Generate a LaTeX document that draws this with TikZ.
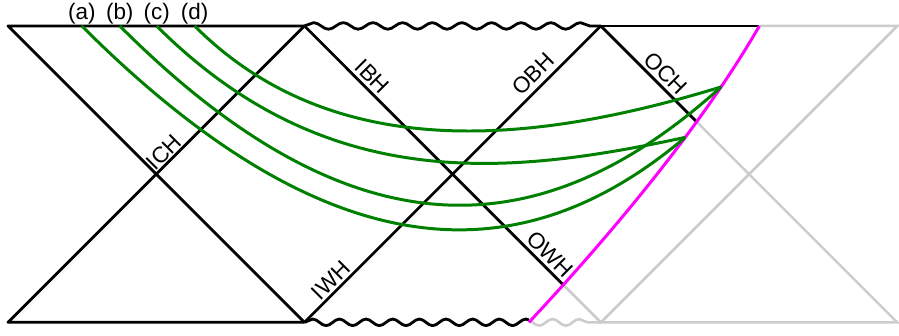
\documentclass[tikz,border=0pt]{standalone}
\usepackage{fontspec}
\setmainfont{Liberation Sans}
\usetikzlibrary{decorations.pathmorphing,intersections}
\definecolor{worldgreen}{RGB}{0,128,0}
\definecolor{ghostgrey}{RGB}{204,204,204}
\definecolor{shell}{RGB}{255,0,255}

\begin{document}
\begin{tikzpicture}[x=148.5pt,y=148.5pt,
  wall/.style={line width=2.8pt,line join=round},
  ghost/.style={line width=2.6pt,draw=ghostgrey},
  sing/.style={decorate,decoration={snake,segment length=#1,amplitude=3.3pt}},
  sing/.default=29.7pt,
  hor/.style={sloped,above,inner sep=4.5pt,font=\fontsize{22.5}{27}\selectfont},
  tag/.style={above,inner sep=2pt,font=\fontsize{22.5}{27}\selectfont},
  world/.style={line width=3pt,draw=worldgreen}]
  \useasboundingbox (-0.054,-0.0875) rectangle (6.012,2.175);

  \foreach \n/\x in {0/0,1/2,2/4,3/6}{
    \coordinate (b\n) at (\x,0);
    \coordinate (t\n) at (\x,2);
  }
  \coordinate (m0) at (3.515,0);
  \coordinate (m1) at (5.07,2);

  \path[name path=mag] (m0) .. controls (4.061,0.585) and (4.67,1.307) .. (m1)
    coordinate[pos=0.64] (ea) coordinate[pos=0.803] (eb);
  \path[name path=owh] (t1) -- node[hor,pos=0.2] {IBH} node[hor,pos=0.8] {OWH} (b2);
  \path[name path=och] (t2) -- node[hor,pos=0.19] {OCH} (b3);
  \path[name intersections={of=mag and owh,by=i1}];
  \path[name intersections={of=mag and och,by=i2}];

  % greyed out part
  \draw[ghost] (m1) -- (t3) -- (b2) -- (b3) -- (t2);
  \draw[ghost] (i1) -- (b2);
  \draw[ghost,sing=26.7pt] (b1) -- (b2);

  \draw[wall] (b1) -- (b0) -- (t1);
  \draw[wall] (t1) -- (t0) -- (b1);
  \draw[wall] (b1) -- node[hor,pos=0.115,inner sep=2pt] {IWH} node[hor,pos=0.805] {OBH} (t2);
  \draw[wall] (t1) -- (i1);
  \draw[wall] (t2) -- (i2);
  \draw[wall] (t2) -- (m1);
  \draw[wall,sing] (t1) -- (t2);
  \begin{scope}
    \clip (1.9,-0.1) rectangle (3.515,0.1);
    \draw[wall,sing=26.7pt] (b1) -- (b2);
  \end{scope}
  \path (b0) -- node[hor,pos=0.55,inner sep=2pt] {ICH} (t1);

  \draw[line width=3pt,draw=shell] (m0) .. controls (4.061,0.585) and (4.67,1.307) .. (m1);

  \foreach \l/\sx/\ax/\ay/\bx/\by/\e in {a/0.498/2.298/0.2/3.576/0.41/ea,
      b/0.754/2.354/0.4/3.626/0.519/eb, c/1.003/2.153/0.85/3.398/0.997/ea,
      d/1.259/2.209/1.05/3.572/1.209/eb}{
    \coordinate (s\l) at (\sx,2);
    \node[tag] (n\l) at (s\l) {(\l)};
    \draw[world] (s\l) .. controls (\ax,\ay) and (\bx,\by) .. (\e);
  }
\end{tikzpicture}
\end{document}
